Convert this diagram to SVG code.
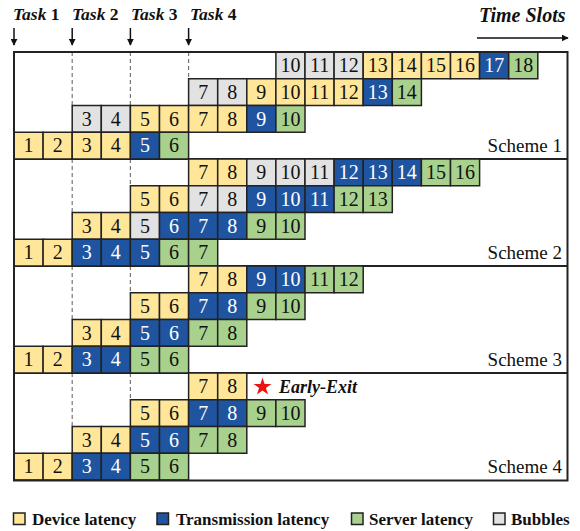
<svg xmlns="http://www.w3.org/2000/svg" width="580" height="531" viewBox="0 0 580 531">
<defs>
<style>
.c rect{stroke:#222;stroke-width:1.5}
.y{fill:#FFE699}.b{fill:#1F55A0}.g{fill:#A9D18E}.k{fill:#E2E2E2}
.c text{font-family:"Liberation Serif",serif;font-size:20px;text-anchor:middle;fill:#111}
.c text.w{fill:#fff}
.dash{stroke:#777;stroke-width:1.2;stroke-dasharray:4 3}
.sep{stroke:#222;stroke-width:2}
.lbl{font-family:"Liberation Serif",serif;font-size:19px;text-anchor:end;fill:#111}
.hd{font-family:"Liberation Serif",serif;font-weight:bold;font-size:17.5px;fill:#111}
.it{font-style:italic}
.leg rect{stroke:#222;stroke-width:1.5}
.leg text{font-size:17px}
</style>
<marker id="ah" viewBox="0 0 10 10" refX="9" refY="5" markerWidth="7" markerHeight="7" markerUnits="userSpaceOnUse" orient="auto"><path d="M0,0 L10,5 L0,10 z" fill="#111"/></marker>
</defs>
<rect width="580" height="531" fill="#fff"/>

<g id="header">
<text class="hd" x="13" y="20"><tspan class="it">Task</tspan> 1</text>
<text class="hd" x="72" y="20"><tspan class="it">Task</tspan> 2</text>
<text class="hd" x="131" y="20"><tspan class="it">Task</tspan> 3</text>
<text class="hd" x="190" y="20"><tspan class="it">Task</tspan> 4</text>
<text class="hd it" x="479" y="22" style="font-size:20px">Time Slots</text>
</g>

<g id="connectors" stroke="#111" stroke-width="1.5" fill="none">
<line x1="14" y1="28" x2="14" y2="45" marker-end="url(#ah)"/>
<line x1="72.2" y1="28" x2="72.2" y2="45" marker-end="url(#ah)"/>
<line x1="130.4" y1="28" x2="130.4" y2="45" marker-end="url(#ah)"/>
<line x1="188.6" y1="28" x2="188.6" y2="45" marker-end="url(#ah)"/>
<line x1="477" y1="38" x2="568" y2="38" marker-end="url(#ah)"/>
</g>

<g id="dashes">
<line class="dash" x1="72.2" y1="52" x2="72.2" y2="105.5"/>
<line class="dash" x1="130.4" y1="52" x2="130.4" y2="105.5"/>
<line class="dash" x1="188.6" y1="52" x2="188.6" y2="78.75"/>
<line class="dash" x1="72.2" y1="159" x2="72.2" y2="212.5"/>
<line class="dash" x1="130.4" y1="159" x2="130.4" y2="185.75"/>
<line class="dash" x1="72.2" y1="266" x2="72.2" y2="319.5"/>
<line class="dash" x1="130.4" y1="266" x2="130.4" y2="292.75"/>
<line class="dash" x1="72.2" y1="373" x2="72.2" y2="426.5"/>
<line class="dash" x1="130.4" y1="373" x2="130.4" y2="399.75"/>
</g>

<g id="separators">
<line class="sep" x1="14" y1="159" x2="567.5" y2="159"/>
<line class="sep" x1="14" y1="266" x2="567.5" y2="266"/>
<line class="sep" x1="14" y1="373" x2="567.5" y2="373"/>
</g>

<!-- Scheme 1 -->
<g id="scheme1" class="c">
<g id="s1r0" transform="translate(0,52)">
<rect class="k" x="275.9" y="0" width="29.1" height="26.75"/><text x="290.45" y="20">10</text>
<rect class="k" x="305" y="0" width="29.1" height="26.75"/><text x="319.55" y="20">11</text>
<rect class="k" x="334.1" y="0" width="29.1" height="26.75"/><text x="348.65" y="20">12</text>
<rect class="y" x="363.2" y="0" width="29.1" height="26.75"/><text x="377.75" y="20">13</text>
<rect class="y" x="392.3" y="0" width="29.1" height="26.75"/><text x="406.85" y="20">14</text>
<rect class="y" x="421.4" y="0" width="29.1" height="26.75"/><text x="435.95" y="20">15</text>
<rect class="y" x="450.5" y="0" width="29.1" height="26.75"/><text x="465.05" y="20">16</text>
<rect class="b" x="479.6" y="0" width="29.1" height="26.75"/><text class="w" x="494.15" y="20">17</text>
<rect class="g" x="508.7" y="0" width="29.1" height="26.75"/><text x="523.25" y="20">18</text>
</g>
<g id="s1r1" transform="translate(0,78.75)">
<rect class="k" x="188.6" y="0" width="29.1" height="26.75"/><text x="203.15" y="20">7</text>
<rect class="k" x="217.7" y="0" width="29.1" height="26.75"/><text x="232.25" y="20">8</text>
<rect class="y" x="246.8" y="0" width="29.1" height="26.75"/><text x="261.35" y="20">9</text>
<rect class="y" x="275.9" y="0" width="29.1" height="26.75"/><text x="290.45" y="20">10</text>
<rect class="y" x="305" y="0" width="29.1" height="26.75"/><text x="319.55" y="20">11</text>
<rect class="y" x="334.1" y="0" width="29.1" height="26.75"/><text x="348.65" y="20">12</text>
<rect class="b" x="363.2" y="0" width="29.1" height="26.75"/><text class="w" x="377.75" y="20">13</text>
<rect class="g" x="392.3" y="0" width="29.1" height="26.75"/><text x="406.85" y="20">14</text>
</g>
<g id="s1r2" transform="translate(0,105.5)">
<rect class="k" x="72.2" y="0" width="29.1" height="26.75"/><text x="86.75" y="20">3</text>
<rect class="k" x="101.3" y="0" width="29.1" height="26.75"/><text x="115.85" y="20">4</text>
<rect class="y" x="130.4" y="0" width="29.1" height="26.75"/><text x="144.95" y="20">5</text>
<rect class="y" x="159.5" y="0" width="29.1" height="26.75"/><text x="174.05" y="20">6</text>
<rect class="y" x="188.6" y="0" width="29.1" height="26.75"/><text x="203.15" y="20">7</text>
<rect class="y" x="217.7" y="0" width="29.1" height="26.75"/><text x="232.25" y="20">8</text>
<rect class="b" x="246.8" y="0" width="29.1" height="26.75"/><text class="w" x="261.35" y="20">9</text>
<rect class="g" x="275.9" y="0" width="29.1" height="26.75"/><text x="290.45" y="20">10</text>
</g>
<g id="s1r3" transform="translate(0,132.25)">
<rect class="y" x="14" y="0" width="29.1" height="26.75"/><text x="28.55" y="20">1</text>
<rect class="y" x="43.1" y="0" width="29.1" height="26.75"/><text x="57.65" y="20">2</text>
<rect class="y" x="72.2" y="0" width="29.1" height="26.75"/><text x="86.75" y="20">3</text>
<rect class="y" x="101.3" y="0" width="29.1" height="26.75"/><text x="115.85" y="20">4</text>
<rect class="b" x="130.4" y="0" width="29.1" height="26.75"/><text class="w" x="144.95" y="20">5</text>
<rect class="g" x="159.5" y="0" width="29.1" height="26.75"/><text x="174.05" y="20">6</text>
</g>
</g>

<!-- Scheme 2 -->
<g id="scheme2" class="c">
<g id="s2r0" transform="translate(0,159)">
<rect class="y" x="188.6" y="0" width="29.1" height="26.75"/><text x="203.15" y="20">7</text>
<rect class="y" x="217.7" y="0" width="29.1" height="26.75"/><text x="232.25" y="20">8</text>
<rect class="k" x="246.8" y="0" width="29.1" height="26.75"/><text x="261.35" y="20">9</text>
<rect class="k" x="275.9" y="0" width="29.1" height="26.75"/><text x="290.45" y="20">10</text>
<rect class="k" x="305" y="0" width="29.1" height="26.75"/><text x="319.55" y="20">11</text>
<rect class="b" x="334.1" y="0" width="29.1" height="26.75"/><text class="w" x="348.65" y="20">12</text>
<rect class="b" x="363.2" y="0" width="29.1" height="26.75"/><text class="w" x="377.75" y="20">13</text>
<rect class="b" x="392.3" y="0" width="29.1" height="26.75"/><text class="w" x="406.85" y="20">14</text>
<rect class="g" x="421.4" y="0" width="29.1" height="26.75"/><text x="435.95" y="20">15</text>
<rect class="g" x="450.5" y="0" width="29.1" height="26.75"/><text x="465.05" y="20">16</text>
</g>
<g id="s2r1" transform="translate(0,185.75)">
<rect class="y" x="130.4" y="0" width="29.1" height="26.75"/><text x="144.95" y="20">5</text>
<rect class="y" x="159.5" y="0" width="29.1" height="26.75"/><text x="174.05" y="20">6</text>
<rect class="k" x="188.6" y="0" width="29.1" height="26.75"/><text x="203.15" y="20">7</text>
<rect class="k" x="217.7" y="0" width="29.1" height="26.75"/><text x="232.25" y="20">8</text>
<rect class="b" x="246.8" y="0" width="29.1" height="26.75"/><text class="w" x="261.35" y="20">9</text>
<rect class="b" x="275.9" y="0" width="29.1" height="26.75"/><text class="w" x="290.45" y="20">10</text>
<rect class="b" x="305" y="0" width="29.1" height="26.75"/><text class="w" x="319.55" y="20">11</text>
<rect class="g" x="334.1" y="0" width="29.1" height="26.75"/><text x="348.65" y="20">12</text>
<rect class="g" x="363.2" y="0" width="29.1" height="26.75"/><text x="377.75" y="20">13</text>
</g>
<g id="s2r2" transform="translate(0,212.5)">
<rect class="y" x="72.2" y="0" width="29.1" height="26.75"/><text x="86.75" y="20">3</text>
<rect class="y" x="101.3" y="0" width="29.1" height="26.75"/><text x="115.85" y="20">4</text>
<rect class="k" x="130.4" y="0" width="29.1" height="26.75"/><text x="144.95" y="20">5</text>
<rect class="b" x="159.5" y="0" width="29.1" height="26.75"/><text class="w" x="174.05" y="20">6</text>
<rect class="b" x="188.6" y="0" width="29.1" height="26.75"/><text class="w" x="203.15" y="20">7</text>
<rect class="b" x="217.7" y="0" width="29.1" height="26.75"/><text class="w" x="232.25" y="20">8</text>
<rect class="g" x="246.8" y="0" width="29.1" height="26.75"/><text x="261.35" y="20">9</text>
<rect class="g" x="275.9" y="0" width="29.1" height="26.75"/><text x="290.45" y="20">10</text>
</g>
<g id="s2r3" transform="translate(0,239.25)">
<rect class="y" x="14" y="0" width="29.1" height="26.75"/><text x="28.55" y="20">1</text>
<rect class="y" x="43.1" y="0" width="29.1" height="26.75"/><text x="57.65" y="20">2</text>
<rect class="b" x="72.2" y="0" width="29.1" height="26.75"/><text class="w" x="86.75" y="20">3</text>
<rect class="b" x="101.3" y="0" width="29.1" height="26.75"/><text class="w" x="115.85" y="20">4</text>
<rect class="b" x="130.4" y="0" width="29.1" height="26.75"/><text class="w" x="144.95" y="20">5</text>
<rect class="g" x="159.5" y="0" width="29.1" height="26.75"/><text x="174.05" y="20">6</text>
<rect class="g" x="188.6" y="0" width="29.1" height="26.75"/><text x="203.15" y="20">7</text>
</g>
</g>

<!-- Scheme 3 -->
<g id="scheme3" class="c">
<g id="s3r0" transform="translate(0,266)">
<rect class="y" x="188.6" y="0" width="29.1" height="26.75"/><text x="203.15" y="20">7</text>
<rect class="y" x="217.7" y="0" width="29.1" height="26.75"/><text x="232.25" y="20">8</text>
<rect class="b" x="246.8" y="0" width="29.1" height="26.75"/><text class="w" x="261.35" y="20">9</text>
<rect class="b" x="275.9" y="0" width="29.1" height="26.75"/><text class="w" x="290.45" y="20">10</text>
<rect class="g" x="305" y="0" width="29.1" height="26.75"/><text x="319.55" y="20">11</text>
<rect class="g" x="334.1" y="0" width="29.1" height="26.75"/><text x="348.65" y="20">12</text>
</g>
<g id="s3r1" transform="translate(0,292.75)">
<rect class="y" x="130.4" y="0" width="29.1" height="26.75"/><text x="144.95" y="20">5</text>
<rect class="y" x="159.5" y="0" width="29.1" height="26.75"/><text x="174.05" y="20">6</text>
<rect class="b" x="188.6" y="0" width="29.1" height="26.75"/><text class="w" x="203.15" y="20">7</text>
<rect class="b" x="217.7" y="0" width="29.1" height="26.75"/><text class="w" x="232.25" y="20">8</text>
<rect class="g" x="246.8" y="0" width="29.1" height="26.75"/><text x="261.35" y="20">9</text>
<rect class="g" x="275.9" y="0" width="29.1" height="26.75"/><text x="290.45" y="20">10</text>
</g>
<g id="s3r2" transform="translate(0,319.5)">
<rect class="y" x="72.2" y="0" width="29.1" height="26.75"/><text x="86.75" y="20">3</text>
<rect class="y" x="101.3" y="0" width="29.1" height="26.75"/><text x="115.85" y="20">4</text>
<rect class="b" x="130.4" y="0" width="29.1" height="26.75"/><text class="w" x="144.95" y="20">5</text>
<rect class="b" x="159.5" y="0" width="29.1" height="26.75"/><text class="w" x="174.05" y="20">6</text>
<rect class="g" x="188.6" y="0" width="29.1" height="26.75"/><text x="203.15" y="20">7</text>
<rect class="g" x="217.7" y="0" width="29.1" height="26.75"/><text x="232.25" y="20">8</text>
</g>
<g id="s3r3" transform="translate(0,346.25)">
<rect class="y" x="14" y="0" width="29.1" height="26.75"/><text x="28.55" y="20">1</text>
<rect class="y" x="43.1" y="0" width="29.1" height="26.75"/><text x="57.65" y="20">2</text>
<rect class="b" x="72.2" y="0" width="29.1" height="26.75"/><text class="w" x="86.75" y="20">3</text>
<rect class="b" x="101.3" y="0" width="29.1" height="26.75"/><text class="w" x="115.85" y="20">4</text>
<rect class="g" x="130.4" y="0" width="29.1" height="26.75"/><text x="144.95" y="20">5</text>
<rect class="g" x="159.5" y="0" width="29.1" height="26.75"/><text x="174.05" y="20">6</text>
</g>
</g>

<!-- Scheme 4 -->
<g id="scheme4" class="c">
<g id="s4r0" transform="translate(0,373)">
<rect class="y" x="188.6" y="0" width="29.1" height="26.75"/><text x="203.15" y="20">7</text>
<rect class="y" x="217.7" y="0" width="29.1" height="26.75"/><text x="232.25" y="20">8</text>
</g>
<g id="s4r1" transform="translate(0,399.75)">
<rect class="y" x="130.4" y="0" width="29.1" height="26.75"/><text x="144.95" y="20">5</text>
<rect class="y" x="159.5" y="0" width="29.1" height="26.75"/><text x="174.05" y="20">6</text>
<rect class="b" x="188.6" y="0" width="29.1" height="26.75"/><text class="w" x="203.15" y="20">7</text>
<rect class="b" x="217.7" y="0" width="29.1" height="26.75"/><text class="w" x="232.25" y="20">8</text>
<rect class="g" x="246.8" y="0" width="29.1" height="26.75"/><text x="261.35" y="20">9</text>
<rect class="g" x="275.9" y="0" width="29.1" height="26.75"/><text x="290.45" y="20">10</text>
</g>
<g id="s4r2" transform="translate(0,426.5)">
<rect class="y" x="72.2" y="0" width="29.1" height="26.75"/><text x="86.75" y="20">3</text>
<rect class="y" x="101.3" y="0" width="29.1" height="26.75"/><text x="115.85" y="20">4</text>
<rect class="b" x="130.4" y="0" width="29.1" height="26.75"/><text class="w" x="144.95" y="20">5</text>
<rect class="b" x="159.5" y="0" width="29.1" height="26.75"/><text class="w" x="174.05" y="20">6</text>
<rect class="g" x="188.6" y="0" width="29.1" height="26.75"/><text x="203.15" y="20">7</text>
<rect class="g" x="217.7" y="0" width="29.1" height="26.75"/><text x="232.25" y="20">8</text>
</g>
<g id="s4r3" transform="translate(0,453.25)">
<rect class="y" x="14" y="0" width="29.1" height="26.75"/><text x="28.55" y="20">1</text>
<rect class="y" x="43.1" y="0" width="29.1" height="26.75"/><text x="57.65" y="20">2</text>
<rect class="b" x="72.2" y="0" width="29.1" height="26.75"/><text class="w" x="86.75" y="20">3</text>
<rect class="b" x="101.3" y="0" width="29.1" height="26.75"/><text class="w" x="115.85" y="20">4</text>
<rect class="g" x="130.4" y="0" width="29.1" height="26.75"/><text x="144.95" y="20">5</text>
<rect class="g" x="159.5" y="0" width="29.1" height="26.75"/><text x="174.05" y="20">6</text>
</g>
</g>

<g id="early-exit">
<polygon points="262.5,377.5 264.6,384 271.5,384 265.9,388 268.1,394.6 262.5,390.5 256.9,394.6 259.1,388 253.5,384 260.4,384" fill="#EE1111"/>
<text class="hd it" x="279" y="393" style="font-size:18px">Early-Exit</text>
</g>

<g id="labels">
<text class="lbl" x="562" y="152">Scheme 1</text>
<text class="lbl" x="562" y="259">Scheme 2</text>
<text class="lbl" x="562" y="366">Scheme 3</text>
<text class="lbl" x="562" y="473">Scheme 4</text>
</g>

<rect id="frame" x="14" y="52" width="553.5" height="428.5" fill="none" stroke="#222" stroke-width="2"/>

<g id="legend" class="leg">
<rect class="y" x="13.5" y="513" width="11.5" height="11.5"/>
<text class="hd" x="32" y="525">Device latency</text>
<rect class="b" x="157" y="513" width="11.5" height="11.5"/>
<text class="hd" x="176" y="525">Transmission latency</text>
<rect class="g" x="351.5" y="513" width="11.5" height="11.5"/>
<text class="hd" x="369" y="525">Server latency</text>
<rect class="k" x="493.5" y="513" width="11.5" height="11.5"/>
<text class="hd" x="511" y="525">Bubbles</text>
</g>
</svg>
